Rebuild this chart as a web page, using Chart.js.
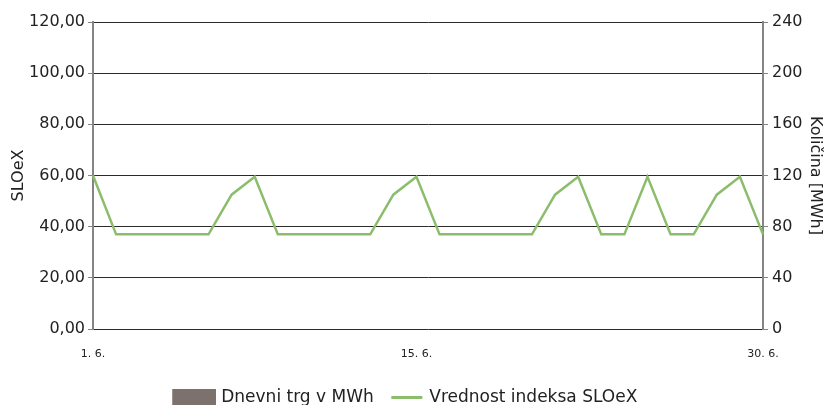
<!DOCTYPE html>
<html>
<head>
<meta charset="utf-8">
<script src="https://cdn.jsdelivr.net/npm/chart.js@4"></script>
<style>
  html, body { margin: 0; padding: 0; background: #fff; overflow: hidden; }
  #wrap { width: 832px; height: 405px; overflow: hidden; }
</style>
</head>
<body>
<div id="wrap"><canvas id="sloexChart" width="832" height="416"></canvas></div>
<script>
// June days
const days = [];
for (let d = 1; d <= 30; d++) days.push(d + '. 6.');
const shownDays = ['1. 6.', '15. 6.', '30. 6.'];

// SLOeX index value (left axis)
const sloex = [60, 37, 37, 37, 37, 37, 52.5, 59.5, 37, 37,
               37, 37, 37, 52.5, 59.5, 37, 37, 37, 37, 37,
               52.5, 59.5, 37, 37, 59.5, 37, 37, 52.5, 59.5, 37];
// daily market volume in MWh (right axis) - nothing traded
const volume = [0, 0, 0, 0, 0, 0, 0, 0, 0, 0,
                0, 0, 0, 0, 0, 0, 0, 0, 0, 0,
                0, 0, 0, 0, 0, 0, 0, 0, 0, 0];

const leftTicks = [0, 20, 40, 60, 80, 100, 120];
const rightTicks = [0, 40, 80, 120, 160, 200, 240];

const green = '#8cbd6c';
const brown = '#7d716d';
const gridDark = '#2a2a2a';
const axisGray = '#858585';
const font = 'DejaVu Sans';

// legend symbols (drawn as images so they sit closer to their text)
const legendBox = document.createElement('canvas');
legendBox.width = 51;
legendBox.height = 17;
let bc = legendBox.getContext('2d');
bc.fillStyle = brown;
bc.fillRect(7, 0, 44, 17);

const legendLine = document.createElement('canvas');
legendLine.width = 51;
legendLine.height = 3;
let lc = legendLine.getContext('2d');
lc.fillStyle = green;
lc.fillRect(18, 0, 31, 3);

const shiftLegend = {
    id: 'shiftLegend',
    afterLayout(chart) {
        chart.legend.left -= 13;
        chart.legend.right -= 13;
    }
};

let config = {
    data: {
        labels: days,
        datasets: [{
            type: 'bar',
            label: 'Dnevni trg v MWh',
            data: volume,
            yAxisID: 'yRight',
            backgroundColor: brown,
            borderWidth: 0,
            pointStyle: legendBox,
            order: 0
        },
        {
            type: 'line',
            label: 'Vrednost indeksa SLOeX',
            data: sloex,
            yAxisID: 'yLeft',
            borderColor: green,
            backgroundColor: green,
            borderWidth: 2.5,
            pointRadius: 0,
            pointStyle: legendLine,
            tension: 0,
            fill: false,
            order: 1
        }]
    },
    options: {
        responsive: false,
        animation: false,
        layout: { padding: { top: 22, left: 0, right: 0, bottom: 0 } },
        scales: {
            x: {
                offset: false,
                grid: { display: false },
                border: { display: false },
                ticks: {
                    autoSkip: false,
                    maxRotation: 0,
                    padding: 11,
                    color: '#222',
                    font: { family: font, size: 11 },
                    callback: function (value, index) {
                        const l = days[index];
                        return shownDays.includes(l) ? l : '';
                    }
                },
                afterFit: (scale) => { scale.height = 57; }
            },
            yLeft: {
                position: 'left',
                min: 0,
                max: 120,
                afterBuildTicks: (scale) => { scale.ticks = leftTicks.map(v => ({ value: v })); },
                grid: { color: gridDark, lineWidth: 1, tickColor: axisGray, tickLength: 5 },
                border: { color: axisGray, width: 2 },
                ticks: {
                    padding: 3,
                    color: '#222',
                    font: { family: font, size: 16 },
                    callback: (v) => v.toFixed(2).replace('.', ',')
                },
                title: {
                    display: true,
                    text: 'SLOeX',
                    color: '#222',
                    padding: { top: 9, bottom: 0 },
                    font: { family: font, size: 16 }
                },
                afterFit: (scale) => { scale.width = 93; }
            },
            yRight: {
                position: 'right',
                min: 0,
                max: 240,
                afterBuildTicks: (scale) => { scale.ticks = rightTicks.map(v => ({ value: v })); },
                grid: { drawOnChartArea: false, tickColor: axisGray, tickLength: 5 },
                border: { color: axisGray, width: 2 },
                ticks: {
                    padding: 4,
                    color: '#222',
                    font: { family: font, size: 16 }
                },
                title: {
                    display: true,
                    text: 'Količina [MWh]',
                    color: '#222',
                    padding: { top: 7, bottom: 0 },
                    font: { family: font, size: 16 }
                },
                afterFit: (scale) => { scale.width = 69; }
            }
        },
        plugins: {
            legend: {
                display: true,
                position: 'bottom',
                labels: {
                    usePointStyle: true,
                    pointStyleWidth: 44,
                    boxHeight: 17,
                    padding: 3,
                    color: '#222',
                    font: { family: font, size: 17 }
                }
            },
            tooltip: { enabled: false }
        }
    },
    plugins: [shiftLegend]
};

let ctx = document.getElementById('sloexChart').getContext('2d');
let myChart = new Chart(ctx, config);
</script>
</body>
</html>
